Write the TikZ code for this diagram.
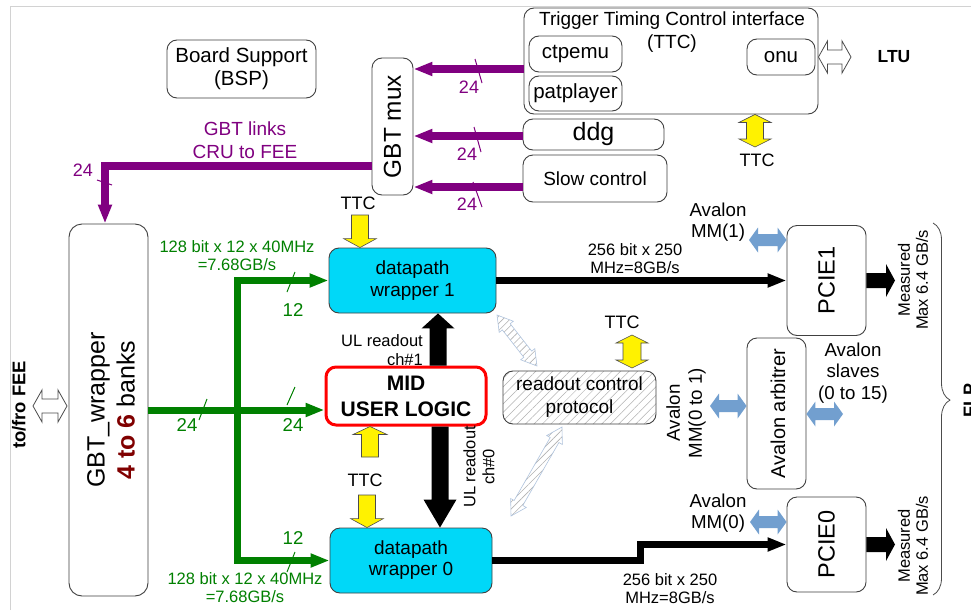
\documentclass[tikz,border=0pt]{standalone}
\usepackage{fontspec}
\setmainfont{Liberation Sans}
\usetikzlibrary{calc,arrows.meta,patterns,patterns.meta,decorations.pathreplacing}
\definecolor{gpurple}{RGB}{128,0,128}
\definecolor{ggreen}{RGB}{0,128,0}
\definecolor{dred}{RGB}{128,0,0}
\definecolor{dcyan}{RGB}{0,216,248}
\definecolor{ablue}{RGB}{114,159,207}
\definecolor{hblue}{RGB}{176,196,222}
\definecolor{framegray}{RGB}{210,210,210}
\newcommand\fsz[2]{\fontsize{#1}{#2}\selectfont}
% single block arrow: style, from, to, half shaft, half head, head length
\newcommand\blkarrow[6]{%
  \coordinate (bkH) at ($(#3)!#6!(#2)$);
  \path[#1] ($(#2)!#4!90:(#3)$) -- ($(bkH)!#4!90:(#3)$) -- ($(bkH)!#5!90:(#3)$) -- (#3)
    -- ($(bkH)!#5!-90:(#3)$) -- ($(bkH)!#4!-90:(#3)$) -- ($(#2)!#4!-90:(#3)$) -- cycle;}
% double block arrow
\newcommand\dblarrow[6]{%
  \coordinate (dkA) at ($(#2)!#6!(#3)$);
  \coordinate (dkB) at ($(#3)!#6!(#2)$);
  \path[#1] (#2) -- ($(dkA)!#5!90:(#3)$) -- ($(dkA)!#4!90:(#3)$) -- ($(dkB)!#4!-90:(#2)$)
    -- ($(dkB)!#5!-90:(#2)$) -- (#3) -- ($(dkB)!#5!90:(#2)$) -- ($(dkB)!#4!90:(#2)$)
    -- ($(dkA)!#4!-90:(#3)$) -- ($(dkA)!#5!-90:(#3)$) -- cycle;}
\begin{document}
\begin{tikzpicture}[x=1pt,y=-1pt,
  box/.style={draw=black!75, line width=0.9pt, rounded corners=10pt, inner sep=0pt, align=center},
  txt/.style={inner sep=0pt, align=center},
  arrowhd/.style={-{Triangle[length=19pt 0 0,width=13pt 0 0]}},
  pline/.style={draw=gpurple, line width=7.5pt},
  gline/.style={draw=ggreen, line width=7pt},
  bline/.style={draw=black, line width=7pt},
  tickmark/.style={line width=1pt},
  yarrow/.style={fill=yellow, draw=black!70, line width=0.6pt},
  harrow/.style={fill=white, draw=black!70, line width=0.8pt},
  barrow/.style={fill=ablue},
  hatch/.style={draw=hblue, line width=0.6pt, pattern={Lines[angle=45,distance=5pt,line width=0.6pt]}, pattern color=gray!60},
]
\fill[white] (0,0) rectangle (971,610);
\useasboundingbox (0,0) rectangle (971,610);
\draw[framegray, line width=1pt] (10,610) -- (10,7) -- (971,7);

% boxes
\node[box, minimum width=149pt, minimum height=58pt, font=\fsz{20.5}{23}] (bsp) at (241.5,69) {Board Support\\(BSP)};
\node[box, minimum width=41pt, minimum height=137pt] (gbtmux) at (392.5,126.5) {};
\node[txt, rotate=90, font=\fsz{24.4}{28}] (gbtmuxt) at (gbtmux) {GBT mux};
\node[box, minimum width=294pt, minimum height=106pt] (ttcif) at (671,61) {};
\node[txt, font=\fsz{19}{23}] (ttct) at (672,32) {Trigger Timing Control interface\\(TTC)};
\node[box, minimum width=93pt, minimum height=36pt, font=\fsz{20.5}{23}] (ctpemu) at (575.5,54) {ctpemu};
\node[box, minimum width=93pt, minimum height=35pt, font=\fsz{20.5}{23}] (patplayer) at (575.5,93.5) {patplayer};
\node[box, minimum width=68pt, minimum height=36pt, font=\fsz{20.5}{23}] (onu) at (781,57) {onu};
\node[box, minimum width=141pt, minimum height=31pt, font=\fsz{25}{28}] (ddg) at (593.5,134.5) {ddg};
\node[box, minimum width=144pt, minimum height=47pt, font=\fsz{19}{22}] (slow) at (595,178.5) {Slow control};
\node[box, rounded corners=13pt, minimum width=79pt, minimum height=372pt] (gbtw) at (108.5,410) {};
\node[txt, rotate=90, font=\fsz{25}{30}] (gbtwt) at (111,410) {GBT\_wrapper\\{\bfseries\color{dred}4 to 6} banks};
\node[box, fill=dcyan, minimum width=167pt, minimum height=65pt, font=\fsz{19}{22}] (dp1) at (412.5,280.5) {datapath\\wrapper 1};
\node[box, draw=red, line width=3pt, minimum width=160pt, minimum height=58pt, font=\bfseries\fsz{21}{26}] (mid) at (406,396) {MID\\USER LOGIC};
\node[box, fill=dcyan, minimum width=162pt, minimum height=65pt, font=\fsz{19}{21}] (dp0) at (411,560.5) {datapath\\wrapper 0};
\node[box, pattern={Lines[angle=45,distance=6pt,line width=0.5pt]}, pattern color=gray!60, minimum width=153pt, minimum height=53pt, font=\fsz{19}{23}] (rcp) at (579.5,397.5) {readout control\\protocol};
\node[box, minimum width=79pt, minimum height=110pt] (pcie1) at (826.5,280.5) {};
\node[txt, rotate=90, font=\fsz{23.5}{26}] (pcie1t) at (pcie1) {PCIE1};
\node[box, minimum width=79pt, minimum height=95pt] (pcie0) at (826.5,544.5) {};
\node[txt, rotate=90, font=\fsz{23.5}{26}] (pcie0t) at (pcie0) {PCIE0};
\node[box, minimum width=59pt, minimum height=151pt] (arb) at (776.5,413.5) {};
\node[txt, rotate=90, font=\fsz{20}{22}] (arbt) at (778,413.5) {Avalon arbitrer};

% purple links
\draw[pline, arrowhd] (ttcif.west |- 0,69) -- (gbtmux.east |- 0,69);
\draw[pline, arrowhd] (ddg.west |- 0,136) -- (gbtmux.east |- 0,136);
\draw[pline, arrowhd] (slow.west |- 0,187) -- (gbtmux.east |- 0,187);
\draw[pline, arrowhd] (gbtmux.west |- 0,166) -| ($(gbtw.north)+(-3.5,0)$);
\draw[gpurple, tickmark] (475,59) -- (482,83);
\draw[gpurple, tickmark] (474,127) -- (481,152);
\draw[gpurple, tickmark] (473,182) -- (482,207);
\draw[gpurple, tickmark] (97,180) -- (112,185);
\node[txt, text=gpurple, font=\fsz{18}{20}] (p24a) at (469,87) {24};
\node[txt, text=gpurple, font=\fsz{18}{20}] (p24b) at (467,154) {24};
\node[txt, text=gpurple, font=\fsz{18}{20}] (p24c) at (467,204) {24};
\node[txt, text=gpurple, font=\fsz{18}{20}] (p24d) at (83,170) {24};
\node[txt, text=gpurple, font=\fsz{19}{23}] (gbtl) at (245,140) {GBT links\\CRU to FEE};

% green bus
\coordinate (bus) at (237,410);
\draw[gline, arrowhd] (gbtw.east |- bus) -- (mid.west |- bus);
\draw[gline, arrowhd] (bus) |- (dp1.west);
\draw[gline, arrowhd] (bus) |- (dp0.west);
\draw[ggreen, tickmark] (295,272) -- (287,292);
\draw[ggreen, tickmark] (295,387) -- (287,405);
\draw[ggreen, tickmark] (207,399) -- (199,420);
\draw[ggreen, tickmark] (295,552) -- (287,572);
\node[txt, text=ggreen, font=\fsz{18.6}{20}] (g12a) at (293,310) {12};
\node[txt, text=ggreen, font=\fsz{18.6}{20}] (g24a) at (293,425) {24};
\node[txt, text=ggreen, font=\fsz{18.6}{20}] (g24b) at (187,425) {24};
\node[txt, text=ggreen, font=\fsz{18.6}{20}] (g12b) at (293,538) {12};
\node[txt, text=ggreen, font=\fsz{16.5}{18}] (gl1) at (237,256) {128 bit x 12 x 40MHz\\=7.68GB/s};
\node[txt, text=ggreen, font=\fsz{16.5}{18}] (gl0) at (245,588) {128 bit x 12 x 40MHz\\=7.68GB/s};

% black data links
\draw[bline, arrowhd] (dp1.east) -- (pcie1.west);
\coordinate (stp) at (640,544.5);
\draw[bline, arrowhd] (dp0.east) -| (stp) -- (pcie0.west);
\node[txt, font=\fsz{16.5}{18}] (bw1) at (635,259) {256 bit x 250\\MHz=8GB/s};
\node[txt, font=\fsz{16.5}{18}] (bw0) at (670,589) {256 bit x 250\\MHz=8GB/s};

% fat black arrows
\coordinate (u1a) at (mid.north -| 438,0); \coordinate (u1b) at (dp1.south -| 438,0);
\blkarrow{fill=black}{u1a}{u1b}{8.5pt}{16.5pt}{15pt}
\coordinate (u0a) at (mid.south -| 440,0); \coordinate (u0b) at (dp0.north -| 440,0);
\blkarrow{fill=black}{u0a}{u0b}{8.5pt}{16.5pt}{28pt}
\node[txt, align=right, anchor=east, font=\fsz{16.5}{19}] (ul1) at (423,350) {UL readout\\ch\#1};
\node[txt, rotate=90, font=\fsz{16.5}{19}] (ul0) at (479,467) {UL readout\\ch\#0};
\coordinate (o1a) at (pcie1.east); \coordinate (o1b) at (895,280.5);
\blkarrow{fill=black}{o1a}{o1b}{7.5pt}{16.5pt}{9pt}
\coordinate (o0a) at (pcie0.east); \coordinate (o0b) at (895,544.5);
\blkarrow{fill=black}{o0a}{o0b}{7.5pt}{16.5pt}{9pt}

% yellow TTC arrows
\coordinate (y1a) at (360,215); \coordinate (y1b) at (dp1.north -| 360,0);
\blkarrow{yarrow}{y1a}{y1b}{8.5pt}{16.5pt}{9pt}
\coordinate (y2a) at (370,457); \coordinate (y2b) at (mid.south -| 370,0);
\blkarrow{yarrow}{y2a}{y2b}{8.5pt}{17pt}{8pt}
\coordinate (y3a) at (367,495); \coordinate (y3b) at (dp0.north -| 367,0);
\blkarrow{yarrow}{y3a}{y3b}{8.5pt}{16.5pt}{9pt}
\coordinate (y4a) at (ttcif.south -| 755,0); \coordinate (y4b) at (755,147);
\dblarrow{yarrow}{y4a}{y4b}{8.5pt}{16pt}{8pt}
\coordinate (y5a) at (632,335); \coordinate (y5b) at (632,368);
\dblarrow{yarrow}{y5a}{y5b}{9pt}{16pt}{8pt}
\node[txt, font=\fsz{18}{20}] (ttc1) at (358,203) {TTC};
\node[txt, font=\fsz{18}{20}] (ttc2) at (365,480) {TTC};
\node[txt, font=\fsz{18}{20}] (ttc3) at (622,322) {TTC};
\node[txt, font=\fsz{18}{20}] (ttc4) at (757,160) {TTC};

% hollow arrows
\coordinate (h1a) at (ttcif.east |- onu.east); \coordinate (h1b) at (851,57);
\dblarrow{harrow}{h1a}{h1b}{7pt}{16pt}{9pt}
\coordinate (h2a) at (33,406); \coordinate (h2b) at (67,406);
\dblarrow{harrow}{h2a}{h2b}{7pt}{16pt}{9pt}
\node[txt, font=\bfseries\fsz{17.5}{20}] (ltu) at (894,57) {LTU};
\node[txt, rotate=90, font=\bfseries\fsz{18.4}{20}] (tofro) at (19,405) {to/fro FEE};

% blue Avalon arrows
\coordinate (b1a) at (749,240); \coordinate (b1b) at (pcie1.west |- b1a);
\dblarrow{barrow}{b1a}{b1b}{6pt}{12.5pt}{9pt}
\coordinate (b2a) at (750,522); \coordinate (b2b) at (pcie0.west |- b2a);
\dblarrow{barrow}{b2a}{b2b}{6pt}{12.5pt}{9pt}
\coordinate (b3a) at (710,406); \coordinate (b3b) at (arb.west |- b3a);
\dblarrow{barrow}{b3a}{b3b}{6pt}{12.5pt}{9pt}
\coordinate (b4a) at (arb.east |- 0,414); \coordinate (b4b) at (843,414);
\dblarrow{barrow}{b4a}{b4b}{6pt}{12.5pt}{9pt}
\node[txt, font=\fsz{18.7}{21}] (av1) at (718,222) {Avalon\\MM(1)};
\node[txt, font=\fsz{18.7}{21}] (av0) at (718,513) {Avalon\\MM(0)};
\node[txt, font=\fsz{18.7}{21.5}] (avs) at (853,373) {Avalon\\slaves\\(0 to 15)};
\node[txt, rotate=90, font=\fsz{18.7}{22}] (av01) at (686,413) {Avalon\\MM(0 to 1)};

% hatched control arrows
\coordinate (hh1a) at (497,315); \coordinate (hh1b) at (537,366);
\dblarrow{hatch}{hh1a}{hh1b}{5pt}{9pt}{15pt}
\coordinate (hh2a) at (562,427); \coordinate (hh2b) at (511,516);
\dblarrow{hatch}{hh2a}{hh2b}{5pt}{9pt}{15pt}

% measured labels and brace
\node[txt, rotate=90, font=\fsz{16.5}{18}] (ms1) at (913,280) {Measured\\Max 6.4 GB/s};
\node[txt, rotate=90, font=\fsz{16.5}{18}] (ms0) at (913,546) {Measured\\Max 6.4 GB/s};
\draw[black!70, line width=0.8pt, decorate, decoration={brace, amplitude=17pt, aspect=0.476}] (933,223) -- (933,595);
\node[txt, rotate=90, font=\bfseries\fsz{18}{20}] (flp) at (970,400) {FLP};
\end{tikzpicture}
\end{document}
